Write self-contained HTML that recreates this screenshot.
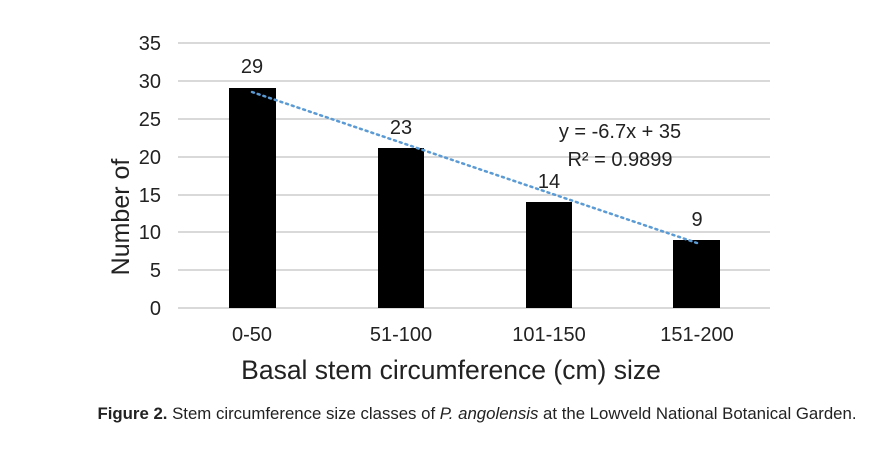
<!DOCTYPE html>
<html><head><style>
body{margin:0;background:#fff;width:895px;height:444px;overflow:hidden;font-family:"Liberation Sans",Arial,sans-serif}
</style></head><body>
<svg width="895" height="444" xmlns="http://www.w3.org/2000/svg" font-family="Liberation Sans, Arial, sans-serif">
<g stroke="#d9d9d9" stroke-width="2">
<line x1="178" x2="770" y1="43" y2="43"/><line x1="178" x2="770" y1="81" y2="81"/>
<line x1="178" x2="770" y1="119" y2="119"/><line x1="178" x2="770" y1="157" y2="157"/>
<line x1="178" x2="770" y1="195" y2="195"/><line x1="178" x2="770" y1="232" y2="232"/>
<line x1="178" x2="770" y1="270" y2="270"/><line x1="178" x2="770" y1="308" y2="308"/>
</g>
<g fill="#000">
<rect x="229" y="88" width="47" height="220"/>
<rect x="378" y="148" width="46" height="160"/>
<rect x="526" y="202" width="46" height="106"/>
<rect x="673" y="240" width="47" height="68"/>
</g>
<line x1="252" y1="92" x2="697" y2="243" stroke="#5b9bd5" stroke-width="2.5" stroke-dasharray="2,4" stroke-linecap="round"/>
<g font-size="20" fill="#222" text-anchor="end">
<text x="161" y="50">35</text><text x="161" y="88">30</text><text x="161" y="126">25</text>
<text x="161" y="164">20</text><text x="161" y="202">15</text><text x="161" y="239">10</text>
<text x="161" y="277">5</text><text x="161" y="315">0</text>
</g>
<g font-size="20" fill="#222" text-anchor="middle">
<text x="252" y="73">29</text><text x="401" y="134">23</text><text x="549" y="188">14</text><text x="697" y="226">9</text>
<text x="252" y="341">0-50</text><text x="401" y="341">51-100</text><text x="549" y="341">101-150</text><text x="697" y="341">151-200</text>
<text x="620" y="138">y = -6.7x + 35</text><text x="620" y="166">R² = 0.9899</text>
</g>
<text x="451" y="379" font-size="26.5" fill="#222" text-anchor="middle">Basal stem circumference (cm) size</text>
<text transform="translate(129,217) rotate(-90)" font-size="25" fill="#222" text-anchor="middle">Number of</text>
<text x="477" y="419" font-size="16.8" fill="#222" text-anchor="middle"><tspan font-weight="bold">Figure 2.</tspan> Stem circumference size classes of <tspan font-style="italic">P. angolensis</tspan> at the Lowveld National Botanical Garden.</text>
</svg>
</body></html>
